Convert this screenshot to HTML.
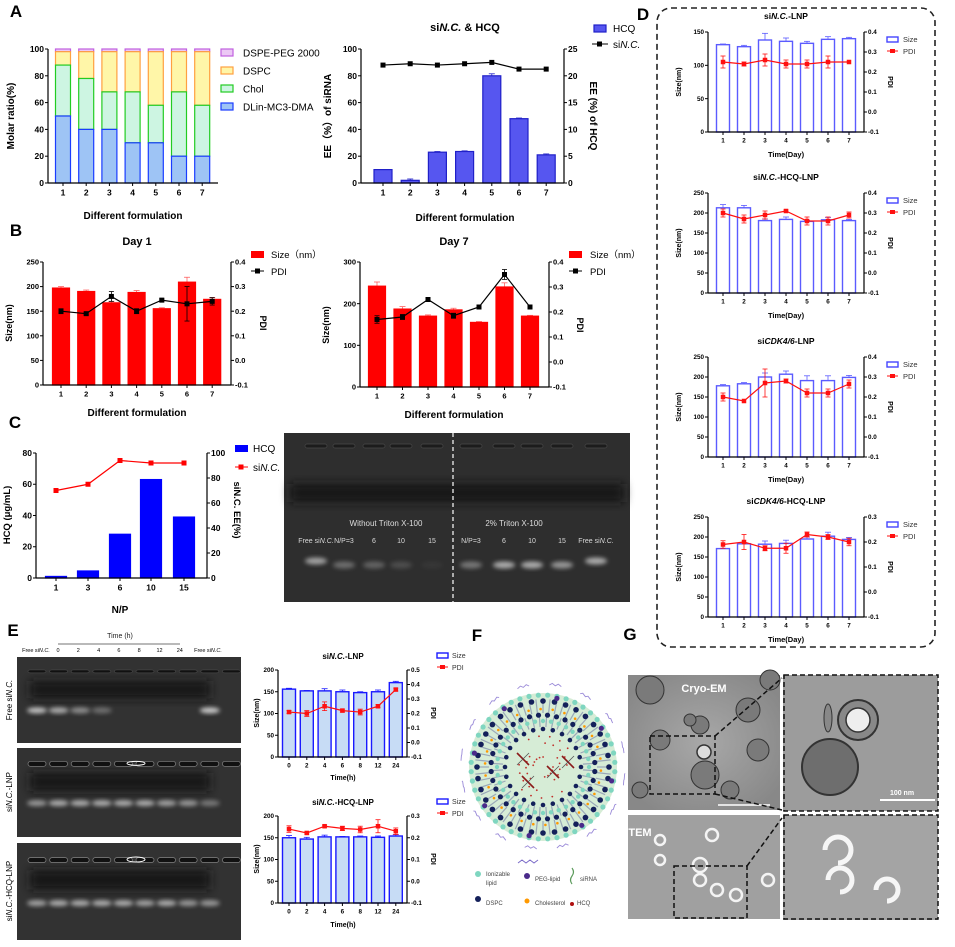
<!DOCTYPE html>
<html><head><meta charset="utf-8"><style>
html,body{margin:0;padding:0;background:#fff;}
svg{display:block;font-family:"Liberation Sans",sans-serif;}
</style></head><body>
<svg id="s" width="955" height="947" viewBox="0 0 955 947" xmlns="http://www.w3.org/2000/svg">
<defs>
<filter id="bl" x="-50%" y="-50%" width="200%" height="200%"><feGaussianBlur stdDeviation="2"/></filter>
<filter id="bl2" x="-50%" y="-50%" width="200%" height="200%"><feGaussianBlur stdDeviation="5"/></filter>
<radialGradient id="gr" cx="50%" cy="50%" r="60%"><stop offset="0" stop-color="#a8a8a8"/><stop offset="1" stop-color="#888"/></radialGradient>
</defs>
</svg>
<script>
let o='';
function t(x,y,s,p={}){const fs=p.fs||8,a=p.a||'middle',w=p.w||'normal',f=p.f||'#000',r=p.r?` transform="rotate(${p.r} ${x} ${y})"`:'',st=p.st?` font-style="${p.st}"`:'',ff=p.ff?` font-family="${p.ff}"`:'';
o+=`<text x="${x}" y="${y}" font-size="${fs}" text-anchor="${a}" font-weight="${w}" fill="${f}"${r}${st}${ff}>${s}</text>`;}
function L(x1,y1,x2,y2,c='#000',w=1,d=''){o+=`<line x1="${x1}" y1="${y1}" x2="${x2}" y2="${y2}" stroke="${c}" stroke-width="${w}"${d?` stroke-dasharray="${d}"`:''}/>`;}
function R(x,y,w,h,f,s='none',sw=1,extra=''){o+=`<rect x="${x}" y="${y}" width="${w}" height="${h}" fill="${f}" stroke="${s}" stroke-width="${sw}" ${extra}/>`;}
function ch(c){
 const ly=v=>c.y1-(v-c.lmin)/(c.lmax-c.lmin)*(c.y1-c.y0);
 const ry=v=>c.y1-(v-c.rmin)/(c.rmax-c.rmin)*(c.y1-c.y0);
 const cx=i=>c.cxs?c.cxs[i]:c.cx0+i*c.dx;
 const fs=c.fs||8, w=c.bold===false?'normal':'bold';
 if(c.bars)c.bars.forEach((v,i)=>{const y=ly(v);
  if(c.berr&&c.berr[i]){L(cx(i),y,cx(i),ly(v+c.berr[i]),c.ec||c.bs,0.8);L(cx(i)-3,ly(v+c.berr[i]),cx(i)+3,ly(v+c.berr[i]),c.ec||c.bs,0.8);}
  R(cx(i)-c.bw/2,y,c.bw,c.y1-y,c.bf,c.bs,c.bsw||1.2);});
 L(c.x0,c.y0,c.x0,c.y1,'#000',1.2);L(c.x0,c.y1,c.x1,c.y1,'#000',1.2);
 if(c.rt)L(c.x1,c.y0,c.x1,c.y1,'#000',1.2);
 c.lt.forEach(v=>{const y=ly(v);L(c.x0-3,y,c.x0,y);t(c.x0-4,y+fs*0.35,v,{fs,a:'end',w});});
 if(c.rt)c.rt.forEach(v=>{const y=ry(v);L(c.x1,y,c.x1+3,y);t(c.x1+4,y+fs*0.35,c.ri?v:v.toFixed(1),{fs,a:'start',w});});
 c.cats.forEach((s,i)=>{L(cx(i),c.y1,cx(i),c.y1+3);t(cx(i),c.y1+fs+4,s,{fs,w});});
 if(c.line){const f=c.la==='r'?ry:ly;
  let p=c.line.map((v,i)=>`${cx(i)},${f(v)}`).join(' ');
  o+=`<polyline points="${p}" fill="none" stroke="${c.lc}" stroke-width="1.2"/>`;
  c.line.forEach((v,i)=>{const y=f(v);if(c.lerr&&c.lerr[i]){const e=c.lerr[i];L(cx(i),f(v-e),cx(i),f(v+e),c.lc,0.8);L(cx(i)-2.5,f(v+e),cx(i)+2.5,f(v+e),c.lc,0.8);L(cx(i)-2.5,f(v-e),cx(i)+2.5,f(v-e),c.lc,0.8);}
  const m=c.ms||5;R(cx(i)-m/2,y-m/2,m,m,c.lc);});}
}
const cats7=['1','2','3','4','5','6','7'];
[['A',16,17],['B',16,236],['C',15,428],['D',643,20],['E',13,636],['F',477,641],['G',630,640]].forEach(a=>t(a[1],a[2],a[0],{fs:17,w:'bold',ff:'"DejaVu Sans",sans-serif'}));
// A left
const dl=[50,40,40,30,30,20,20],chl=[88,78,68,68,58,68,58];
for(let i=0;i<7;i++){const x=63+i*23.2-7.5,Y=v=>183-v*1.34;
 R(x,Y(100),15,Y(98)-Y(100),'#ecc8f5','#c060e0',1.2);
 R(x,Y(98),15,Y(chl[i])-Y(98),'#fff6a8','#ffa040',1.2);
 R(x,Y(chl[i]),15,Y(dl[i])-Y(chl[i]),'#cdf5e2','#22cc22',1.2);
 R(x,Y(dl[i]),15,Y(0)-Y(dl[i]),'#9ec4f5','#1a3cff',1.2);}
ch({x0:48,x1:218,y0:49,y1:183,lmin:0,lmax:100,lt:[0,20,40,60,80,100],cats:cats7,cx0:63,dx:23.2,fs:8.5});
t(14,116,'Molar ratio(%)',{fs:10,w:'bold',r:-90});
t(133,219,'Different formulation',{fs:10,w:'bold'});
[['DSPE-PEG 2000','#ecc8f5','#c060e0'],['DSPC','#fff6a8','#ffa040'],['Chol','#cdf5e2','#22cc22'],['DLin-MC3-DMA','#9ec4f5','#1a3cff']].forEach((l,i)=>{const y=53+i*18;R(221,y-4,12,7,l[1],l[2],1.2);t(243,y+3.5,l[0],{fs:10,a:'start'});});
// A right
ch({x0:361,x1:564,y0:49,y1:183,lmin:0,lmax:100,lt:[0,20,40,60,80,100],rmin:0,rmax:25,rt:[0,5,10,15,20,25],ri:1,cats:cats7,cx0:383,dx:27.2,bw:18,bars:[10,2,23,23.5,80,48,21],berr:[0,1,0.5,0.5,1.5,0.5,0.7],bf:'#5656f0',bs:'#2020c8',line:[88,89,88,89,90,85,85],lc:'#000',fs:8.5});
o+=`<text x="465" y="31" font-size="11" text-anchor="middle" font-weight="bold">si<tspan font-style="italic">N.C.</tspan> &amp; HCQ</text>`;
t(331,116,'EE（%）of siRNA',{fs:10,w:'bold',r:-90,ff:'"Liberation Sans","Noto Sans CJK SC",sans-serif'});
t(590,116,'EE (%) of HCQ',{fs:10,w:'bold',r:90});
t(465,221,'Different formulation',{fs:10,w:'bold'});
R(594,25,12,7,'#5656f0','#2020c8',1.2);t(613,32,'HCQ',{fs:10,a:'start'});
L(592,44,608,44);R(597,41.5,5,5,'#000');o+=`<text x="613" y="48" font-size="10">si<tspan font-style="italic">N.C.</tspan></text>`;
// B
ch({x0:43,x1:231,y0:262,y1:385,lmin:0,lmax:250,lt:[0,50,100,150,200,250],rmin:-0.1,rmax:0.4,rt:[-0.1,0,0.1,0.2,0.3,0.4],cats:cats7,cx0:61,dx:25.2,bw:17,bars:[197,190,167,188,155,209,174],berr:[3,3,3,4,2,10,4],bf:'#ff0000',bs:'#ff0000',ec:'#ff6060',line:[0.2,0.19,0.26,0.2,0.245,0.23,0.24],la:'r',lerr:[0.01,0.005,0.02,0.01,0.005,0.07,0.015],lc:'#000',fs:7.5});
ch({x0:360,x1:549,y0:262,y1:387,lmin:0,lmax:300,lt:[0,100,200,300],rmin:-0.1,rmax:0.4,rt:[-0.1,0,0.1,0.2,0.3,0.4],cats:cats7,cx0:377,dx:25.5,bw:17,bars:[242,187,170,185,155,240,170],berr:[10,6,3,4,2,10,2],bf:'#ff0000',bs:'#ff0000',ec:'#ff6060',line:[0.17,0.18,0.25,0.185,0.22,0.35,0.22],la:'r',lerr:[0.015,0.01,0,0.01,0,0.02,0],lc:'#000',fs:7.5});
t(137,245,'Day 1',{fs:11,w:'bold'});t(454,245,'Day 7',{fs:11,w:'bold'});
t(12,323,'Size(nm)',{fs:9,w:'bold',r:-90});t(329,325,'Size(nm)',{fs:9,w:'bold',r:-90});
t(260,323,'PDI',{fs:9,w:'bold',r:90});t(577,325,'PDI',{fs:9,w:'bold',r:90});
t(137,416,'Different formulation',{fs:10,w:'bold'});t(454,418,'Different formulation',{fs:10,w:'bold'});
[[251,271],[569,590]].forEach(p=>{R(p[0],251,13,7,'#ff0000');t(p[1],258,'Size（nm）',{fs:9.5,a:'start',ff:'"Liberation Sans","Noto Sans CJK SC",sans-serif'});L(p[0],271,p[0]+13,271);R(p[0]+4,268.5,5,5,'#000');t(p[1],275,'PDI',{fs:9.5,a:'start'});});
// C
ch({x0:36,x1:207,y0:453,y1:578,lmin:0,lmax:80,lt:[0,20,40,60,80],rmin:0,rmax:100,rt:[0,20,40,60,80,100],ri:1,cats:['1','3','6','10','15'],cxs:[56,88,120,151,184],bw:21,bars:[1,4.5,28,63,39],bf:'#0000ff',bs:'#0000ff',line:[70,75,94,92,92],la:'r',lc:'#ff0000',fs:8.5});
t(120,613,'N/P',{fs:10,w:'bold'});
t(10,515,'HCQ (μg/mL)',{fs:9.5,w:'bold',r:-90});
o+=`<text x="234" y="510" font-size="9.5" font-weight="bold" text-anchor="middle" transform="rotate(90 234 510)">si<tspan>N.C.</tspan> EE(%)</text>`;
R(235,445,13,7,'#0000ff');t(253,452,'HCQ',{fs:10,a:'start'});
L(235,467,248,467,'#ff0000');R(238.5,464.5,5,5,'#ff0000');o+=`<text x="253" y="471" font-size="10">si<tspan font-style="italic">N.C.</tspan></text>`;
// C gel
R(284,433,346,169,'#2e2e2e');
o+=`<rect x="290" y="484" width="334" height="18" fill="#141414" filter="url(#bl2)"/>`;
const gx=[316,344,374,401,432,471,504,532,562,596];
gx.forEach(x=>{o+=`<rect x="${x-11}" y="444" width="22" height="4" rx="2" fill="#1c1c1c" stroke="#4a4a4a" stroke-width="0.7"/>`;});
L(453,433,453,602,'#fff',1.2,'4,3');
t(386,526,'Without Triton X-100',{fs:8,f:'#ddd',ff:'"Liberation Serif",serif'});t(514,526,'2% Triton X-100',{fs:8,f:'#ddd',ff:'"Liberation Serif",serif'});
const glab=['Free si<tspan font-style="italic">N.C.</tspan>','N/P=3','6','10','15','N/P=3','6','10','15','Free si<tspan font-style="italic">N.C.</tspan>'];
gx.forEach((x,i)=>{o+=`<text x="${x}" y="543" font-size="7" text-anchor="middle" fill="#d8d8d8">${glab[i]}</text>`;});
[.55,.3,.25,.15,.04,.35,.6,.6,.5,.6].forEach((a,i)=>{o+=`<ellipse cx="${gx[i]}" cy="${i==0||i==9?561:565}" rx="11" ry="3.5" fill="#fff" opacity="${a}" filter="url(#bl)"/>`;});
// D
o+=`<rect x="657" y="8" width="278" height="639" rx="14" fill="none" stroke="#222" stroke-width="1.6" stroke-dasharray="6,4"/>`;
const Dc=[
 {y0:32,t:'si<tspan font-style="italic">N.C.</tspan>-LNP',lmax:150,lt:[0,50,100,150],rt:[-0.1,0,0.1,0.2,0.3,0.4],rmax:0.4,bars:[131,128,138,136,133,139,140],be:[1,2,10,5,3,4,2],ln:[0.25,0.24,0.26,0.24,0.24,0.25,0.25],le:[0.03,0.01,0.03,0.02,0.02,0.03,0]},
 {y0:193,t:'si<tspan font-style="italic">N.C.</tspan>-HCQ-LNP',lmax:250,lt:[0,50,100,150,200,250],rt:[-0.1,0,0.1,0.2,0.3,0.4],rmax:0.4,bars:[213,213,181,184,179,183,181],be:[8,6,4,6,3,6,3],ln:[0.3,0.27,0.29,0.31,0.26,0.26,0.29],le:[0.02,0.02,0.02,0.005,0.02,0.02,0.015]},
 {y0:357,t:'si<tspan font-style="italic">CDK4/6</tspan>-LNP',lmax:250,lt:[0,50,100,150,200,250],rt:[-0.1,0,0.1,0.2,0.3,0.4],rmax:0.4,bars:[178,183,200,207,191,191,199],be:[3,3,10,8,12,12,5],ln:[0.2,0.18,0.27,0.28,0.22,0.22,0.265],le:[0.02,0,0.07,0.01,0.02,0.02,0.02]},
 {y0:517,t:'si<tspan font-style="italic">CDK4/6</tspan>-HCQ-LNP',lmax:250,lt:[0,50,100,150,200,250],rt:[-0.1,0,0.1,0.2,0.3],rmax:0.3,bars:[171,183,182,184,195,202,194],be:[0,0,8,8,5,10,5],ln:[0.19,0.2,0.175,0.175,0.23,0.22,0.2],le:[0.015,0.03,0.01,0.02,0.01,0.01,0.015]}];
Dc.forEach(d=>{const y1=d.y0+100;
 ch({x0:708,x1:864,y0:d.y0,y1,lmin:0,lmax:d.lmax,lt:d.lt,rmin:-0.1,rmax:d.rmax,rt:d.rt,cats:cats7,cx0:723,dx:21,bw:13,bars:d.bars,berr:d.be,bf:'#fff',bs:'#5b5bff',bsw:1.4,line:d.ln,la:'r',lerr:d.le,lc:'#ff1010',ms:4.5,fs:6.3});
 o+=`<text x="786" y="${d.y0-13}" font-size="8.5" font-weight="bold" text-anchor="middle">${d.t}</text>`;
 t(681,d.y0+50,'Size(nm)',{fs:7,w:'bold',r:-90});t(888,d.y0+50,'PDI',{fs:7,w:'bold',r:90});
 t(786,y1+25,'Time(Day)',{fs:7.5,w:'bold'});
 R(887,d.y0+5,11,5,'#fff','#4444ff',1.4);t(903,d.y0+10,'Size',{fs:7.5,a:'start',f:'#333'});
 L(887,d.y0+19,898,d.y0+19,'#ff1010');R(890,d.y0+17,5,4,'#ff1010');t(903,d.y0+22,'PDI',{fs:7.5,a:'start',f:'#333'});
});
// E gels
function gel(y,h,bands,wells){R(17,y,224,h,'#323232');
 o+=`<rect x="30" y="${y+h*0.28}" width="180" height="${h*0.2}" fill="#151515" filter="url(#bl2)"/>`;
 for(let i=0;i<10;i++){const x=37+i*21.6;o+=`<rect x="${x-9}" y="${y+h*0.15}" width="18" height="${wells?5:3}" rx="2.5" fill="#111" stroke="${wells?'#777':'#444'}" stroke-width="0.8"/>`;
  if(bands[i])o+=`<ellipse cx="${x}" cy="${y+h*0.62}" rx="10" ry="3" fill="#fff" opacity="${bands[i]}" filter="url(#bl)"/>`;}
}
gel(657,86,[.7,.6,.45,.3,0,0,0,0,.75,0],false);
gel(748,89,[.5,.6,.6,.6,.6,.6,.55,.5,.35,0],true);
gel(843,97,[.55,.6,.6,.6,.6,.55,.6,.5,.5,0],true);
o+=`<ellipse cx="136" cy="${748+89*0.15+2}" rx="9" ry="2" fill="none" stroke="#fff" stroke-width="1"/>`;
o+=`<ellipse cx="136" cy="${843+97*0.15+2}" rx="9" ry="2.5" fill="none" stroke="#fff" stroke-width="1"/>`;
t(120,638,'Time (h)',{fs:7,f:'#222'});L(58,644,180,644,'#444',0.8);
const el=['0','2','4','6','8','12','24'];
o+=`<text x="36" y="652" font-size="5.5" text-anchor="middle">Free si<tspan font-style="italic">N.C.</tspan></text>`;
el.forEach((s,i)=>t(58+i*20.3,652,s,{fs:5.5}));
o+=`<text x="208" y="652" font-size="5.5" text-anchor="middle">Free si<tspan font-style="italic">N.C.</tspan></text>`;
[[700,'Free si<tspan font-style="italic">N.C.</tspan>'],[792,'si<tspan font-style="italic">N.C.</tspan>-LNP'],[891,'si<tspan font-style="italic">N.C.</tspan>-HCQ-LNP']].forEach(l=>{o+=`<text x="12" y="${l[0]}" font-size="8" text-anchor="middle" transform="rotate(-90 12 ${l[0]})">${l[1]}</text>`;});
// E charts
const ecat=['0','2','4','6','8','12','24'];
ch({x0:278,x1:407,y0:670,y1:757,lmin:0,lmax:200,lt:[0,50,100,150,200],rmin:-0.1,rmax:0.5,rt:[-0.1,0,0.1,0.2,0.3,0.4,0.5],cats:ecat,cx0:289,dx:17.8,bw:13,bars:[156,152,152,150,148,150,171],berr:[2,1,5,4,2,4,3],bf:'#c7dcf5',bs:'#1a1aff',bsw:1.4,line:[0.21,0.2,0.25,0.22,0.21,0.25,0.365],la:'r',lerr:[0.01,0.02,0.03,0.01,0.02,0.01,0.01],lc:'#ff1010',ms:4.5,fs:6.3});
ch({x0:278,x1:407,y0:816,y1:903,lmin:0,lmax:200,lt:[0,50,100,150,200],rmin:-0.1,rmax:0.3,rt:[-0.1,0,0.1,0.2,0.3],cats:ecat,cx0:289,dx:17.8,bw:13,bars:[150,147,152,152,152,151,154],berr:[5,4,4,1,2,3,3],bf:'#c7dcf5',bs:'#1a1aff',bsw:1.4,line:[0.24,0.222,0.253,0.243,0.238,0.253,0.23],la:'r',lerr:[0.015,0.005,0.005,0.01,0.015,0.03,0.015],lc:'#ff1010',ms:4.5,fs:6.3});
o+=`<text x="343" y="659" font-size="8" font-weight="bold" text-anchor="middle">si<tspan font-style="italic">N.C.</tspan>-LNP</text>`;
o+=`<text x="343" y="805" font-size="8" font-weight="bold" text-anchor="middle">si<tspan font-style="italic">N.C.</tspan>-HCQ-LNP</text>`;
[[713,780],[859,927]].forEach(p=>{t(259,p[0],'Size(nm)',{fs:7,w:'bold',r:-90});t(431,p[0],'PDI',{fs:7,w:'bold',r:90});t(343,p[1],'Time(h)',{fs:7,w:'bold'});});
[656,802].forEach(y=>{R(437,y-3,11,5,'#fff','#1a1aff',1.4);t(452,y+2,'Size',{fs:7,a:'start',f:'#333'});L(437,y+11,448,y+11,'#ff1010');R(440,y+9,5,4,'#ff1010');t(452,y+14,'PDI',{fs:7,a:'start',f:'#333'});});
// F
const CX=543,CY=767;
o+=`<circle cx="${CX}" cy="${CY}" r="74" fill="#d6ecd6"/>`;
function ring(r,n,col,rad,off=0){for(let i=0;i<n;i++){const a=(i+off)/n*2*Math.PI;o+=`<circle cx="${(CX+r*Math.cos(a)).toFixed(1)}" cy="${(CY+r*Math.sin(a)).toFixed(1)}" r="${rad}" fill="${col}"/>`;}}
function tails(r1,r2,n,col,off=0){for(let i=0;i<n;i++){const a=(i+off)/n*2*Math.PI;L((CX+r1*Math.cos(a)).toFixed(1),(CY+r1*Math.sin(a)).toFixed(1),(CX+r2*Math.cos(a)).toFixed(1),(CY+r2*Math.sin(a)).toFixed(1),col,1.2);}}
tails(68,54,60,'#9aa8b8');tails(40,52,44,'#9aa8b8',0.5);
ring(72,48,'#7fd6c0',2.6,0.5);ring(66,36,'#14205a',2.8);ring(58,30,'#ff9900',1.3,0.3);
ring(52,36,'#14205a',2.6,0.5);ring(46,36,'#7fd6c0',2.2);ring(38,24,'#14205a',2.3);
for(let i=0;i<8;i++){const a=i/8*6.283+0.2;o+=`<circle cx="${(CX+70*Math.cos(a)).toFixed(1)}" cy="${(CY+70*Math.sin(a)).toFixed(1)}" r="2.6" fill="#4a2a8a"/>`;}
for(let i=0;i<40;i++){const a=i*2.4,r=10+(i*7)%28;o+=`<circle cx="${(CX+r*Math.cos(a)).toFixed(1)}" cy="${(CY+r*Math.sin(a)).toFixed(1)}" r="0.9" fill="#c0302a"/>`;}
[[-20,-8],[10,5],[-15,15],[25,-5]].forEach(p=>{L(CX+p[0]-6,CY+p[1]-6,CX+p[0]+6,CY+p[1]+6,'#8a1a1a',1.6);L(CX+p[0]-6,CY+p[1]+6,CX+p[0]+6,CY+p[1]-6,'#555',0.8);});
for(let i=0;i<16;i++){const a=i/16*6.283+0.15,r=82,x=CX+r*Math.cos(a),y=CY+r*Math.sin(a);const dx=-Math.sin(a)*6,dy=Math.cos(a)*6;
 o+=`<path d="M${(x-dx).toFixed(1)},${(y-dy).toFixed(1)} l${(dx/2).toFixed(1)},${(dy/2-2).toFixed(1)} l${(dx/2).toFixed(1)},${(dy/2+2).toFixed(1)} l${(dx/2).toFixed(1)},${(dy/2-2).toFixed(1)} l${(dx/2).toFixed(1)},${(dy/2+2).toFixed(1)}" fill="none" stroke="#9a8ad8" stroke-width="0.9"/>`;}
o+=`<path d="M518,863 l4,-3 l4,3 l4,-3 l4,3 l4,-3" fill="none" stroke="#7a6ac8" stroke-width="1"/>`;
o+=`<circle cx="478" cy="874" r="3" fill="#7fd6c0"/><circle cx="527" cy="876" r="3" fill="#4a2a8a"/><circle cx="478" cy="899" r="3" fill="#14205a"/><circle cx="527" cy="901" r="2.5" fill="#ff9900"/><circle cx="572" cy="904" r="2" fill="#b01010"/>`;
o+=`<path d="M572,868 q3,4 0,8 q-3,4 0,8" fill="none" stroke="#5a9a5a" stroke-width="1.2"/>`;
[[486,876,'Ionizable'],[486,885,'lipid'],[535,881,'PEG-lipid'],[580,881,'siRNA'],[486,905,'DSPC'],[535,905,'Cholesterol'],[577,905,'HCQ']].forEach(l=>t(l[0],l[1],l[2],{fs:6,a:'start',f:'#444',ff:'"Liberation Serif",serif'}));
// G
R(628,675,152,135,'url(#gr)');R(783,675,155,136,'#9c9c9c');R(628,815,152,104,'#a0a0a0');R(783,815,155,105,'#a4a4a4');
[[650,690,14],[660,740,10],[700,725,9],[748,710,12],[758,750,11],[705,775,14],[690,720,6],[640,790,8],[730,790,9],[770,680,10]].forEach(c=>o+=`<circle cx="${c[0]}" cy="${c[1]}" r="${c[2]}" fill="#7a7a7a" stroke="#333" stroke-width="1"/>`);
o+=`<circle cx="704" cy="752" r="7" fill="#ddd" stroke="#333" stroke-width="1.5"/>`;
o+=`<circle cx="858" cy="720" r="20" fill="#888" stroke="#333" stroke-width="2"/><circle cx="858" cy="720" r="12" fill="#eee" stroke="#333" stroke-width="1.5"/>`;
o+=`<circle cx="830" cy="767" r="28" fill="#6e6e6e" stroke="#333" stroke-width="2"/><ellipse cx="828" cy="718" rx="4" ry="14" fill="#888" stroke="#333"/>`;
t(704,692,'Cryo-EM',{fs:11,w:'bold',f:'#fff'});t(902,795,'100 nm',{fs:7,w:'bold',f:'#fff'});L(880,800,935,800,'#fff',2);L(718,805,770,805,'#fff',1.5);
t(640,836,'TEM',{fs:11,w:'bold',f:'#fff'});
[[660,840,5],[712,835,6],[700,880,6],[717,890,6],[736,895,6],[700,865,7],[768,880,6],[660,860,5]].forEach(c=>o+=`<circle cx="${c[0]}" cy="${c[1]}" r="${c[2]}" fill="none" stroke="#f4f4f4" stroke-width="2.5"/>`);
[[838,850,13],[840,880,12],[887,890,11]].forEach(c=>o+=`<path d="M${c[0]-c[2]},${c[1]} a${c[2]},${c[2]} 0 1 1 ${c[2]},${c[2]}" fill="none" stroke="#f6f6f6" stroke-width="5"/>`);
o+=`<rect x="650" y="736" width="65" height="58" fill="none" stroke="#111" stroke-width="1.5" stroke-dasharray="5,3"/>`;
o+=`<rect x="784" y="675" width="154" height="136" fill="none" stroke="#111" stroke-width="1.5" stroke-dasharray="5,3"/>`;
o+=`<rect x="674" y="866" width="73" height="52" fill="none" stroke="#111" stroke-width="1.5" stroke-dasharray="5,3"/>`;
o+=`<rect x="784" y="815" width="154" height="104" fill="none" stroke="#111" stroke-width="1.5" stroke-dasharray="5,3"/>`;
L(715,736,782,678,'#111',1.5,'5,3');L(715,794,782,810,'#111',1.5,'5,3');L(747,866,782,818,'#111',1.5,'5,3');
document.getElementById('s').insertAdjacentHTML('beforeend',o);
</script>
</body></html>
